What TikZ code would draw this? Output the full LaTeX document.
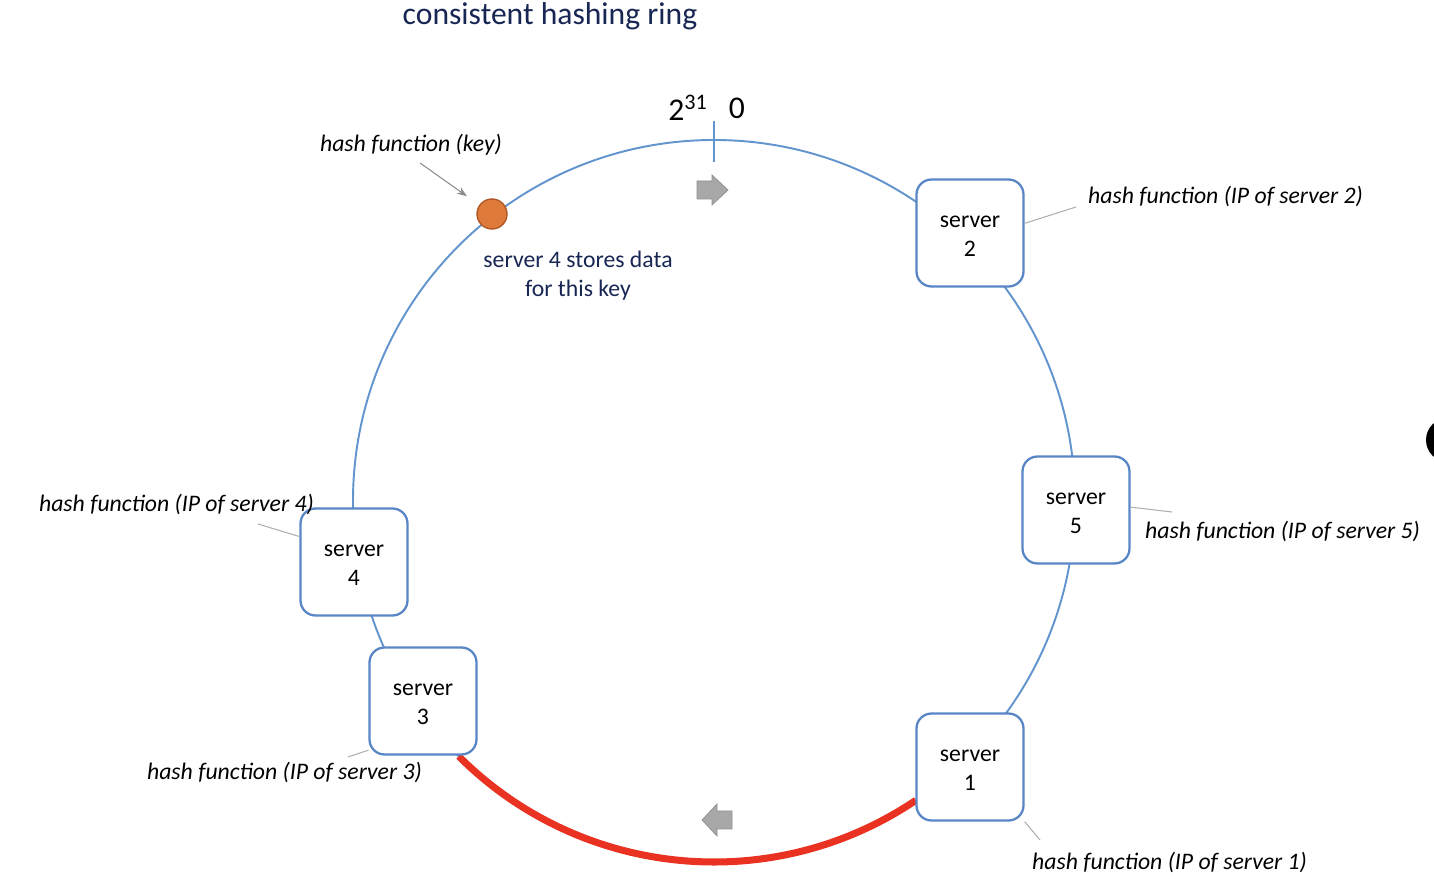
\documentclass[tikz,border=0pt]{standalone}
\usepackage{fontspec}
\setmainfont{Carlito}
\usepackage{tikz}
\usetikzlibrary{arrows.meta}
\definecolor{ringblue}{RGB}{98,148,206}
\definecolor{boxblue}{RGB}{88,134,198}
\definecolor{hotred}{RGB}{234,50,35}
\definecolor{keyorange}{RGB}{224,122,58}
\definecolor{keyedge}{RGB}{176,88,40}
\definecolor{titlenavy}{RGB}{24,38,84}
\definecolor{leadgray}{RGB}{175,175,175}
\definecolor{arrowgray}{RGB}{168,168,168}
\newcommand{\srvtext}[1]{\raisebox{-0.06cm}[\height][\depth]{\begin{tabular}{@{}c@{}}server\\#1\end{tabular}}}

\begin{document}
\begin{tikzpicture}[x=0.02cm,y=0.02cm,>=Stealth,
  every node/.style={font=\fontsize{13.5}{16.4}\selectfont},
  server/.style={draw=boxblue,line width=1.3pt,fill=white,rounded corners=0.3cm,
    minimum width=2.14cm,minimum height=2.14cm,align=center,inner sep=0pt},
  hashlab/.style={font=\fontsize{13.5}{16.4}\selectfont\itshape},
  leader/.style={draw=leadgray,line width=0.6pt}]
\useasboundingbox (0,0) rectangle (1434,879);

% title
\node[text=titlenavy,font=\fontsize{18}{20}\selectfont] (title) at (550,863) {consistent hashing ring};

% ring and the range of server 1
\draw[ringblue,line width=1.1pt] (714,378) circle (361);
\draw[hotred,line width=4pt] (714,378) ++(225:361) arc (225:304:361);

% zero point
\draw[ringblue,line width=0.8pt] (714,717) -- (714,758);
\node[font=\fontsize{18}{20}\selectfont] (top) at (688,771) {2\textsuperscript{31}};
\node[font=\fontsize{18}{20}\selectfont] (zero) at (737,771) {0};

% direction arrows
\filldraw[fill=arrowgray,draw=arrowgray!85!black,line width=0.4pt]
  (697,680) -- (712,680) -- (712,674) -- (728,689) -- (712,704) -- (712,698) -- (697,698) -- cycle;
\filldraw[fill=arrowgray,draw=arrowgray!85!black,line width=0.4pt]
  (732,50) -- (717,50) -- (717,43) -- (702,59) -- (717,75) -- (717,68) -- (732,68) -- cycle;

% servers
\node[server] (s2) at (970,646) {\srvtext{2}};
\node[server] (s5) at (1076,369) {\srvtext{5}};
\node[server] (s1) at (970,112) {\srvtext{1}};
\node[server] (s3) at (423,178) {\srvtext{3}};
\node[server] (s4) at (354,317) {\srvtext{4}};

% key
\node[circle,fill=keyorange,draw=keyedge,line width=0.8pt,minimum size=0.6cm,inner sep=0pt] (dot) at (492,665) {};
\node[hashlab] (hk) at (411,734) {hash function (key)};
\coordinate (ka) at (420,716);
\draw[->,leadgray!80!black,line width=0.6pt,shorten >=0.3cm] (ka) -- (dot);
\node[text=titlenavy,align=center] (store) at (578,603) {server 4 stores data\\for this key};

% hash labels
\node[hashlab,anchor=west] (l2) at (1082,683) {hash function (IP of server 2)};
\node[hashlab,anchor=west] (l5) at (1139,348) {hash function (IP of server 5)};
\node[hashlab,anchor=east] (l4) at (320,375) {hash function (IP of server 4)};
\node[hashlab,anchor=east] (l3) at (428,107) {hash function (IP of server 3)};
\node[hashlab,anchor=west] (l1) at (1026,17) {hash function (IP of server 1)};
\coordinate (k2) at (1076,672);
\coordinate (k5) at (1172,367);
\coordinate (k4) at (258,355);
\coordinate (k3) at (348,122);
\coordinate (k1) at (1040,39);
\draw[leader] (s2.10) -- (k2);
\draw[leader] (s5.3) -- (k5);
\draw[leader] (s4.155) -- (k4);
\draw[leader] (s3.222) -- (k3);
\draw[leader] (s1.-45) -- (k1);

% black blot at the right edge
\fill[black] (1448,439) circle (22);
\end{tikzpicture}
\end{document}
